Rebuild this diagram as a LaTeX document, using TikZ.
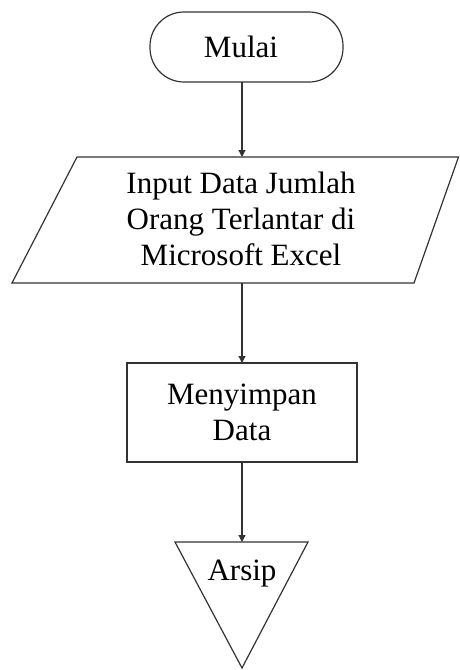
\documentclass[tikz,border=0pt]{standalone}
\usepackage{fontspec}
\setmainfont{Liberation Serif}
\usetikzlibrary{arrows.meta}
\begin{document}
\begin{tikzpicture}[x=1pt,y=-1pt,
  shapeline/.style={draw=black!80, line width=1.2pt, line join=miter},
  arr/.style={draw=black!80, line width=1.2pt, -{Triangle[length=7pt,width=7pt]}},
  lbl/.style={font=\fontsize{31}{36}\selectfont, align=center, inner sep=0pt}]
\useasboundingbox (0,0) rectangle (459,670);
% terminator
\draw[shapeline, rounded corners=34pt] (150,12) rectangle (343,82);
\node[lbl] (start) at (241,47) {Mulai};
\coordinate (startb) at (242,82);
% parallelogram
\draw[shapeline] (77,157) -- (458.5,157) -- (414,283) -- (12,283) -- cycle;
\node[lbl] (input) at (241,219) {Input Data Jumlah\\Orang Terlantar di\\Microsoft Excel};
\coordinate (inputt) at (242,157);
\coordinate (inputb) at (242,283);
% rectangle
\draw[shapeline] (127,363) rectangle (357,462);
\node[lbl] (save) at (242,412) {Menyimpan\\Data};
\coordinate (savet) at (242,363);
\coordinate (saveb) at (242,462);
% triangle
\draw[shapeline] (175,542) -- (308,542) -- (242,668) -- cycle;
\node[lbl] (arsip) at (242,574) {Arsip};
\coordinate (arsipt) at (242,542);
% connectors
\draw[arr] (startb) -- (inputt);
\draw[arr] (inputb) -- (savet);
\draw[arr] (saveb) -- (arsipt);
\end{tikzpicture}
\end{document}
